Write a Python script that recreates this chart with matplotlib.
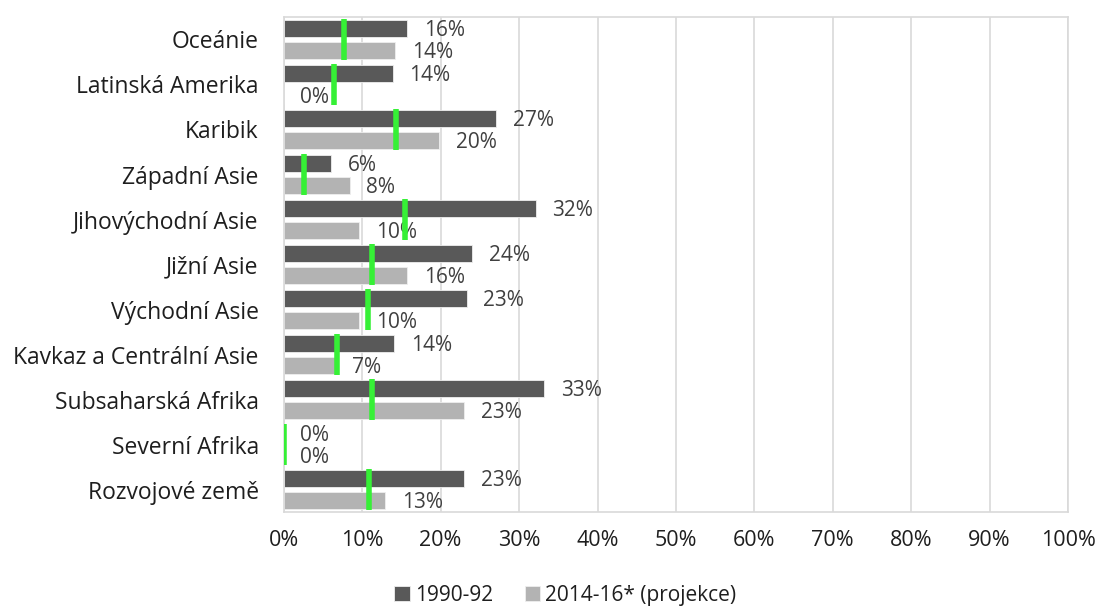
import numpy as np
import matplotlib.pyplot as plt
from matplotlib.ticker import PercentFormatter

# ---------- data ----------
regiony = ['Oceánie', 'Latinská Amerika', 'Karibik', 'Západní Asie',
           'Jihovýchodní Asie', 'Jižní Asie', 'Východní Asie',
           'Kavkaz a Centrální Asie', 'Subsaharská Afrika',
           'Severní Afrika', 'Rozvojové země']
hodnoty_1990 = [15.7, 13.9, 27.1, 6.0, 32.1, 24.0, 23.3, 14.1, 33.2, 0.0, 23.0]
hodnoty_2014 = [14.2, 0.0, 19.8, 8.4, 9.6, 15.7, 9.6, 6.6, 23.0, 0.0, 12.9]
cil = [7.7, 6.4, 14.3, 2.6, 15.5, 11.2, 10.7, 6.8, 11.2, 0.0, 10.8]
x_ticks = np.arange(0, 101, 10)

plt.rcParams['font.family'] = ['Open Sans', 'DejaVu Sans']
text_col = '#1e1e1e'
label_col = '#404040'
grid_col = '#d9d9d9'

fig = plt.figure(figsize=(11, 6.06), dpi=100)
ax = fig.add_axes([0.258, 0.155, 0.713, 0.817])

y = np.arange(len(regiony))
b1 = ax.barh(y - 0.25, hodnoty_1990, height=0.38, color='#595959',
             edgecolor='#eeeeee', linewidth=0.6, label='1990-92', zorder=2)
b2 = ax.barh(y + 0.25, hodnoty_2014, height=0.38, color='#b3b3b3',
             edgecolor='#eeeeee', linewidth=0.6, label='2014-16* (projekce)', zorder=2)

# green target markers across each pair of bars
ax.vlines(cil, y - 0.45, y + 0.45, color='#36f036', linewidth=4, zorder=4)

# value labels
for bars, vals in ((b1, hodnoty_1990), (b2, hodnoty_2014)):
    for rect, v in zip(bars, vals):
        ax.annotate(f'{v:.0f}%', xy=(v, rect.get_y() + rect.get_height() / 2),
                    xytext=(12, -1.5), textcoords='offset points',
                    va='center', ha='left', fontsize=15, color=label_col, zorder=3)

ax.set_xlim(0, 100)
ax.set_ylim(len(regiony) - 0.5, -0.5)
ax.set_xticks(x_ticks)
ax.xaxis.set_major_formatter(PercentFormatter(decimals=0))
ax.set_yticks(y)
ax.set_yticklabels(regiony)
ax.tick_params(axis='both', length=0, labelcolor=text_col)
ax.tick_params(axis='y', pad=18, labelsize=16.5)
ax.tick_params(axis='x', pad=13, labelsize=15.5)

ax.grid(axis='x', color=grid_col, linewidth=1.2, zorder=0)
ax.set_axisbelow(True)
for s in ax.spines.values():
    s.set_color(grid_col)
    s.set_linewidth(1.2)

fig.legend(handles=[b1, b2], loc='center', bbox_to_anchor=(0.514, 0.018),
           ncol=2, frameon=False, fontsize=15, labelcolor=text_col,
           handlelength=0.75, handleheight=0.75, handletextpad=0.25,
           columnspacing=1.5, borderpad=0)

fig.savefig('out.png', dpi=100)
